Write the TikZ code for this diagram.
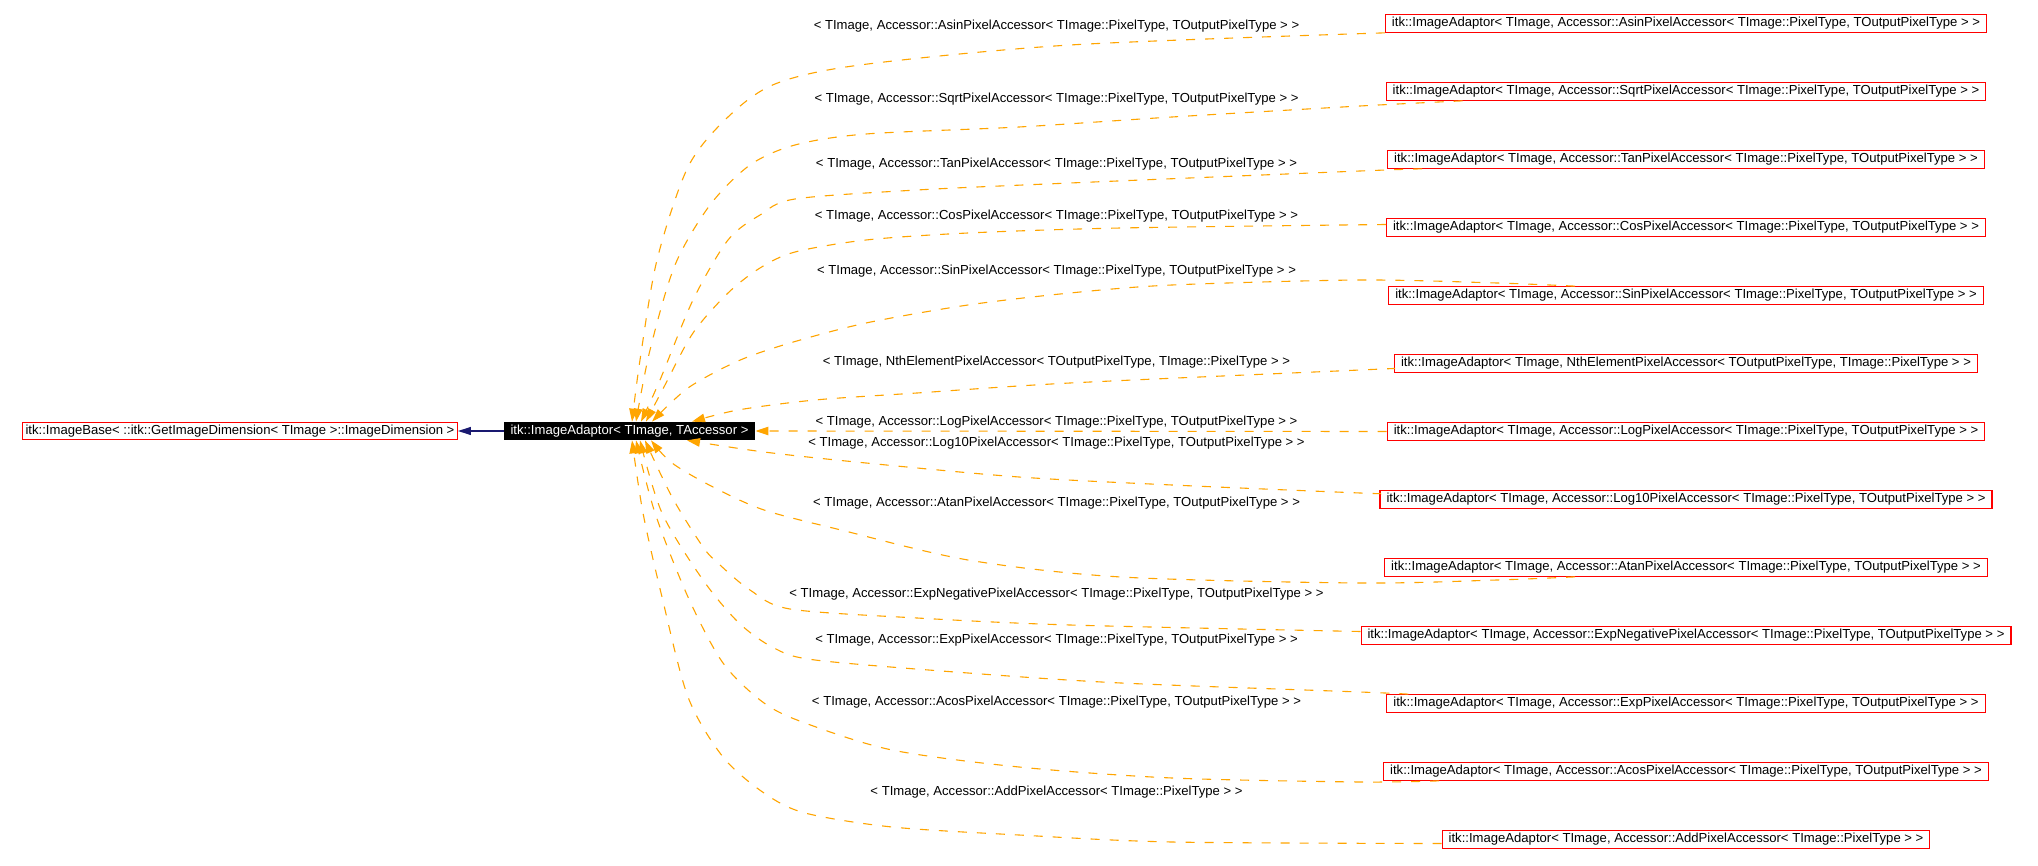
\documentclass[tikz,border=0pt]{standalone}
\usepackage{fontspec}
\setmainfont{Liberation Sans}
\usetikzlibrary{arrows.meta}
\definecolor{gvorange}{HTML}{FFA500}
\definecolor{gvnavy}{HTML}{191970}
\newcommand\dgfont{\fontsize{13.1}{15}\selectfont}
\begin{document}
\begin{tikzpicture}[x=1pt,y=-1pt,
  cls/.style={draw=red, line width=1.1pt, font=\dgfont, inner xsep=6.5pt, inner ysep=0pt,
    minimum height=17.6pt, text height=9.5pt, text depth=2.8pt},
  mainbox/.style={cls, draw=black, fill=black, text=white},
  lbl/.style={font=\dgfont, inner sep=0pt, text height=9.5pt, text depth=2.8pt},
  dep/.style={draw=gvorange, line width=1.1pt, dash pattern=on 9pt off 10pt,
    -{Triangle[length=13pt,width=8.5pt,fill=gvorange]}},
  inh/.style={draw=gvnavy, line width=1.1pt, -{Triangle[length=13pt,width=8pt,fill=gvnavy]}}]
\fill[white] (0,0) rectangle (2038,866);
\useasboundingbox (0,0) rectangle (2038,866);

% nodes
\node[cls, inner xsep=3pt] (base) at (240,431) {itk::ImageBase< ::itk::GetImageDimension< TImage >::ImageDimension >};
\node[mainbox] (main) at (629.5,431) {itk::ImageAdaptor< TImage, TAccessor >};

\node[cls] (asin)   at (1686,23.5)  {itk::ImageAdaptor< TImage, Accessor::AsinPixelAccessor< TImage::PixelType, TOutputPixelType > >};
\node[cls] (sqrt)   at (1686,91.5)  {itk::ImageAdaptor< TImage, Accessor::SqrtPixelAccessor< TImage::PixelType, TOutputPixelType > >};
\node[cls] (tan)    at (1686,159.5) {itk::ImageAdaptor< TImage, Accessor::TanPixelAccessor< TImage::PixelType, TOutputPixelType > >};
\node[cls] (cos)    at (1686,227.5) {itk::ImageAdaptor< TImage, Accessor::CosPixelAccessor< TImage::PixelType, TOutputPixelType > >};
\node[cls] (sin)    at (1686,295.5) {itk::ImageAdaptor< TImage, Accessor::SinPixelAccessor< TImage::PixelType, TOutputPixelType > >};
\node[cls] (nth)    at (1686,363.5) {itk::ImageAdaptor< TImage, NthElementPixelAccessor< TOutputPixelType, TImage::PixelType > >};
\node[cls] (log)    at (1686,431.5) {itk::ImageAdaptor< TImage, Accessor::LogPixelAccessor< TImage::PixelType, TOutputPixelType > >};
\node[cls] (logten) at (1686,499.5) {itk::ImageAdaptor< TImage, Accessor::Log10PixelAccessor< TImage::PixelType, TOutputPixelType > >};
\node[cls] (atan)   at (1686,567.5) {itk::ImageAdaptor< TImage, Accessor::AtanPixelAccessor< TImage::PixelType, TOutputPixelType > >};
\node[cls] (expneg) at (1686,635.5) {itk::ImageAdaptor< TImage, Accessor::ExpNegativePixelAccessor< TImage::PixelType, TOutputPixelType > >};
\node[cls] (exp)    at (1686,703.5) {itk::ImageAdaptor< TImage, Accessor::ExpPixelAccessor< TImage::PixelType, TOutputPixelType > >};
\node[cls] (acos)   at (1686,771.5) {itk::ImageAdaptor< TImage, Accessor::AcosPixelAccessor< TImage::PixelType, TOutputPixelType > >};
\node[cls] (add)    at (1686,839.5) {itk::ImageAdaptor< TImage, Accessor::AddPixelAccessor< TImage::PixelType > >};

% labels
\node[lbl] (lasin)   at (1056.5,25.7)  {< TImage, Accessor::AsinPixelAccessor< TImage::PixelType, TOutputPixelType > >};
\node[lbl] (lsqrt)   at (1056.5,99)    {< TImage, Accessor::SqrtPixelAccessor< TImage::PixelType, TOutputPixelType > >};
\node[lbl] (ltan)    at (1056.5,163.7) {< TImage, Accessor::TanPixelAccessor< TImage::PixelType, TOutputPixelType > >};
\node[lbl] (lcos)    at (1056.5,215.7) {< TImage, Accessor::CosPixelAccessor< TImage::PixelType, TOutputPixelType > >};
\node[lbl] (lsin)    at (1056.5,270.7) {< TImage, Accessor::SinPixelAccessor< TImage::PixelType, TOutputPixelType > >};
\node[lbl] (lnth)    at (1056.5,361.7) {< TImage, NthElementPixelAccessor< TOutputPixelType, TImage::PixelType > >};
\node[lbl] (llog)    at (1056.5,421.7) {< TImage, Accessor::LogPixelAccessor< TImage::PixelType, TOutputPixelType > >};
\node[lbl] (llogten) at (1056.5,442.7) {< TImage, Accessor::Log10PixelAccessor< TImage::PixelType, TOutputPixelType > >};
\node[lbl] (latan)   at (1056.5,502.7) {< TImage, Accessor::AtanPixelAccessor< TImage::PixelType, TOutputPixelType > >};
\node[lbl] (lexpneg) at (1056.5,593.7) {< TImage, Accessor::ExpNegativePixelAccessor< TImage::PixelType, TOutputPixelType > >};
\node[lbl] (lexp)    at (1056.5,639.7) {< TImage, Accessor::ExpPixelAccessor< TImage::PixelType, TOutputPixelType > >};
\node[lbl] (lacos)   at (1056.5,701.7) {< TImage, Accessor::AcosPixelAccessor< TImage::PixelType, TOutputPixelType > >};
\node[lbl] (ladd)    at (1056.5,791.7) {< TImage, Accessor::AddPixelAccessor< TImage::PixelType > >};

% inheritance
\draw[inh] (main.west) -- (base.east);

% template instantiation edges
\draw[dep] plot[smooth,tension=0.5] coordinates {(asin.south west) (1070,45) (860,65) (775,84) (728,117) (688,167) (657,260) (640,360) ([xshift=2.5pt]main.north)};
\draw[dep] plot[smooth,tension=0.5] coordinates {([xshift=77pt]sqrt.south west) (1360,106) (1172,117) (1019,127) (866,134) (795,145) (750,165) (710,205) (675,265) (650,350) ([xshift=6.5pt]main.north)};
\draw[dep] plot[smooth,tension=0.5] coordinates {([xshift=35pt]tan.south west) (1360,171) (1070,183) (917,190) (795,199) (760,215) (728,240) (693,300) (660,380) ([xshift=11.5pt]main.north)};
\draw[dep] plot[smooth,tension=0.5] coordinates {([yshift=3pt]cos.west) (1121,228) (968,233) (866,240) (795,252) (760,268) (728,293) (693,333) (665,385) ([xshift=16.5pt]main.north)};
\draw[dep] plot[smooth,tension=0.5] coordinates {([xshift=187pt]sin.north west) (1497,283) (1360,280) (1172,285) (1070,293) (968,305) (866,323) (790,343) (738,361) (688,388) ([xshift=22.5pt]main.north)};
\draw[dep] plot[smooth,tension=0.5] coordinates {([yshift=-5pt]nth.west) (1360,370) (1070,383) (917,393) (815,400) (738,410) ([xshift=62.5pt]main.north)};
\draw[dep] (log.west) -- (main.east);
\draw[dep] plot[smooth,tension=0.5] coordinates {([yshift=6pt]logten.west) (1360,493) (1172,485) (1019,477) (866,463) (764,452) ([xshift=57.5pt]main.south)};
\draw[dep] plot[smooth,tension=0.5] coordinates {([xshift=191pt]atan.south west) (1497,580) (1360,583) (1121,577) (968,560) (841,530) (764,510) (713,487) (672,463) ([xshift=21.5pt]main.south)};
\draw[dep] plot[smooth,tension=0.5] coordinates {([yshift=4pt]expneg.west) (1070,625) (917,618) (790,609) (750,590) (720,565) (703,547) (672,497) ([xshift=15.5pt]main.south)};
\draw[dep] plot[smooth,tension=0.5] coordinates {([xshift=22pt]exp.north west) (1360,692) (1121,683) (968,673) (815,660) (774,648) (739,623) (703,580) (662,513) ([xshift=10.5pt]main.south)};
\draw[dep] plot[smooth,tension=0.5] coordinates {([xshift=56pt]acos.south west) (1360,782) (1172,778) (1019,767) (892,750) (805,723) (764,703) (723,663) (688,597) (655,513) ([xshift=6.5pt]main.south)};
\draw[dep] plot[smooth,tension=0.5] coordinates {([yshift=-4pt]add.west) (1172,842) (1019,835) (892,827) (805,813) (764,793) (723,757) (688,697) (662,597) (643,513) ([xshift=2.5pt]main.south)};
\end{tikzpicture}
\end{document}
